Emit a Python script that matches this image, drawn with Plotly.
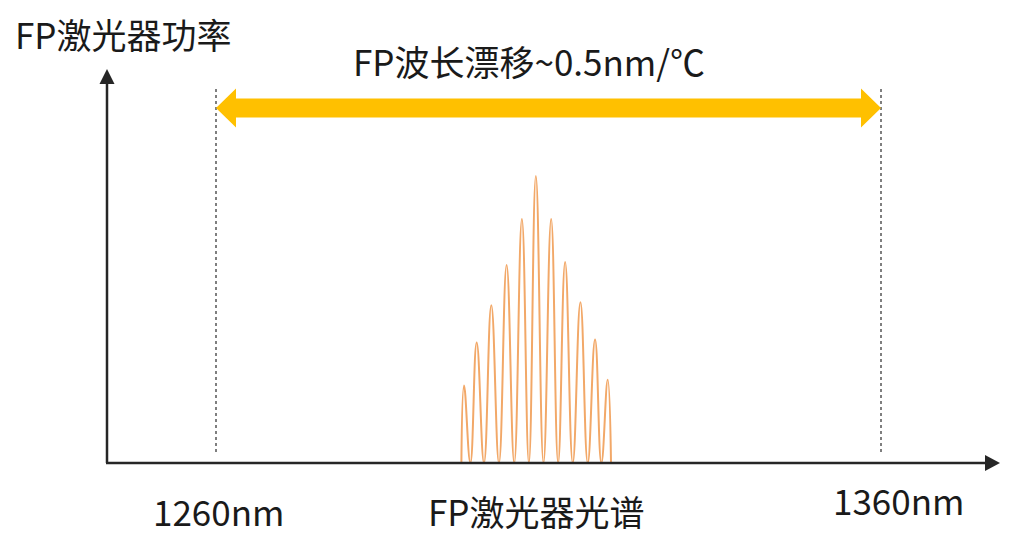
import plotly.graph_objects as go

# ---- data ----
peak_wavelengths = [1297.3, 1299.2, 1301.4, 1303.7, 1306.0, 1308.1, 1310.4, 1312.5, 1314.8, 1317.0, 1318.9]
peak_power = [0.27, 0.42, 0.55, 0.69, 0.85, 1.00, 0.85, 0.70, 0.56, 0.43, 0.29]
valley_wavelengths = [1296.9, 1298.25, 1300.3, 1302.55, 1304.85, 1307.05, 1309.25, 1311.45, 1313.65, 1315.9, 1317.95, 1319.4]
band_edges = [1260, 1360]
band_labels = ["1260nm", "1360nm"]
y_title = "FP激光器功率"
x_title = "FP激光器光谱"
drift_label = "FP波长漂移~0.5nm/℃"

# ---- build spectrum: valley, peak, valley, ... ----
xs, ys = [], []
for i, (pw, pp) in enumerate(zip(peak_wavelengths, peak_power)):
    xs += [valley_wavelengths[i], pw]
    ys += [0, pp]
xs.append(valley_wavelengths[-1])
ys.append(0)

W, H = 1024, 546
PX_PER_NM = 6.65
X0 = band_edges[0] - 216 / PX_PER_NM
X1 = X0 + W / PX_PER_NM
BASE_PX = 463
PX_PER_UNIT = 287.0
Y0 = -(H - BASE_PX) / PX_PER_UNIT
Y1 = BASE_PX / PX_PER_UNIT

def dx(px):
    return px / PX_PER_NM

def dy(px):
    return px / PX_PER_UNIT

def xpx(px):
    return X0 + px / PX_PER_NM

fig = go.Figure()
fig.add_trace(go.Scatter(x=xs, y=ys, mode="lines",
                         line=dict(color="#F2A868", width=2, shape="spline", smoothing=1.3),
                         hoverinfo="skip", showlegend=False))

shapes = []
# dashed band edge lines
for e in band_edges:
    shapes.append(dict(type="line", xref="x", yref="y", x0=e, x1=e,
                       y0=dy(11), y1=dy(BASE_PX - 86),
                       line=dict(color="#555555", width=1.5, dash="dot")))

# yellow double-headed arrow
yc = dy(BASE_PX - 108)
bt = dy(9.5)
hh = dy(19.5)
hl = dx(20)
a, b = band_edges
path = (f"M {a},{yc} L {a+hl},{yc+hh} L {a+hl},{yc+bt} L {b-hl},{yc+bt} L {b-hl},{yc+hh} "
        f"L {b},{yc} L {b-hl},{yc-hh} L {b-hl},{yc-bt} L {a+hl},{yc-bt} L {a+hl},{yc-hh} Z")
shapes.append(dict(type="path", xref="x", yref="y", path=path,
                   fillcolor="#FFC000", line=dict(width=0)))

# axes with arrowheads
ax_x = xpx(107)
axis_col = "#262626"
shapes.append(dict(type="line", xref="x", yref="y", x0=ax_x, x1=ax_x, y0=0, y1=dy(BASE_PX - 83),
                   line=dict(color=axis_col, width=2.5)))
shapes.append(dict(type="path", xref="x", yref="y",
                   path=f"M {ax_x-dx(7.5)},{dy(BASE_PX-84)} L {ax_x+dx(7.5)},{dy(BASE_PX-84)} L {ax_x},{dy(BASE_PX-69)} Z",
                   fillcolor=axis_col, line=dict(width=0)))
shapes.append(dict(type="line", xref="x", yref="y", x0=xpx(106), x1=xpx(986), y0=0, y1=0,
                   line=dict(color=axis_col, width=2.5)))
shapes.append(dict(type="path", xref="x", yref="y",
                   path=f"M {xpx(985)},{dy(8)} L {xpx(985)},{-dy(8)} L {xpx(1000)},0 Z",
                   fillcolor=axis_col, line=dict(width=0)))

font = dict(family="Noto Sans CJK SC, Microsoft YaHei, sans-serif", size=35, color="#1a1a1a")

def px_ann(text, cx, cy, xanchor="center"):
    return dict(text=text, xref="paper", yref="paper", x=cx / W, y=1 - cy / H,
                xanchor=xanchor, yanchor="middle", showarrow=False, font=font)

annotations = [
    px_ann(y_title, 13, 33, "left"),
    px_ann(drift_label, 529, 60),
    dict(text=band_labels[0], xref="x", yref="paper", x=band_edges[0] + dx(2), y=1 - 510 / H,
         xanchor="center", yanchor="middle", showarrow=False, font=font),
    dict(text=band_labels[1], xref="x", yref="paper", x=band_edges[1] + dx(17), y=1 - 499 / H,
         xanchor="center", yanchor="middle", showarrow=False, font=font),
    px_ann(x_title, 536, 510),
]

fig.update_layout(
    width=W, height=H, margin=dict(l=0, r=0, t=0, b=0),
    paper_bgcolor="white", plot_bgcolor="white",
    xaxis=dict(range=[X0, X1], visible=False, fixedrange=True),
    yaxis=dict(range=[Y0, Y1], visible=False, fixedrange=True),
    shapes=shapes, annotations=annotations, showlegend=False,
)

fig.write_html("out.html", config=dict(displayModeBar=False),
               post_script="document.body.style.margin='0';document.body.style.overflow='hidden';")
